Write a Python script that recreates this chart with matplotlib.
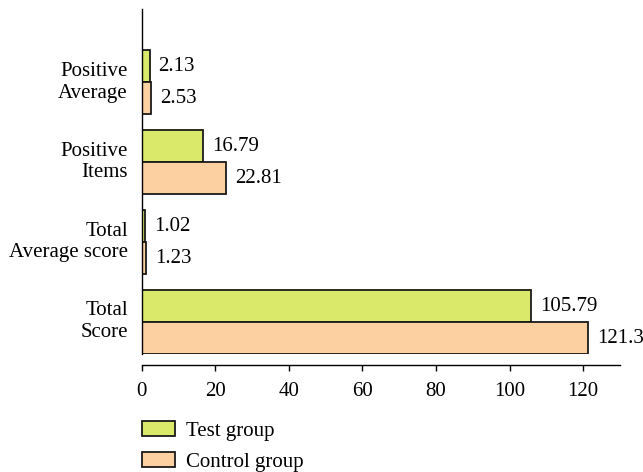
import matplotlib
matplotlib.use('Agg')
import matplotlib.pyplot as plt
import matplotlib.transforms as mtransforms
from matplotlib.patches import Patch
import numpy as np

# Data (bottom to top)
categories = ['Total\nScore', 'Total\nAverage score', 'Positive\nItems', 'Positive\nAverage']
test_group = [105.79, 1.02, 16.79, 2.13]
control_group = [121.3, 1.23, 22.81, 2.53]
test_labels = ['105.79', '1.02', '16.79', '2.13']
control_labels = ['121.3', '1.23', '22.81', '2.53']
x_ticks = [0, 20, 40, 60, 80, 100, 120]

green = '#dbe96b'
orange = '#fdd0a2'
edge = '#1a1a1a'

plt.rcParams['font.family'] = ['Liberation Serif', 'DejaVu Serif']
plt.rcParams['font.size'] = 15

fig = plt.figure(figsize=(6.43, 4.72), dpi=100)
ax = fig.add_axes([0.2204, 0.25, 0.9642 - 0.2204, 0.731])

y = np.arange(len(categories))
h = 0.4
ax.barh(y + h / 2, test_group, height=h, color=green, edgecolor=edge, linewidth=1.3)
ax.barh(y - h / 2, control_group, height=h, color=orange, edgecolor=edge, linewidth=1.3)

for yi, v, s in zip(y, test_group, test_labels):
    ax.annotate(s, (v, yi + h / 2), xytext=(6.5, 0), textcoords='offset points',
                va='center', ha='left', fontsize=15)
for yi, v, s in zip(y, control_group, control_labels):
    ax.annotate(s, (v, yi - h / 2), xytext=(6.5, 0), textcoords='offset points',
                va='center', ha='left', fontsize=15)

ax.set_xlim(0, 130)
ax.set_ylim(-0.4, 3.92)
ax.set_xticks(x_ticks)
ax.set_yticks(y)
ax.set_yticklabels(categories, multialignment='right', linespacing=1.2)
ax.tick_params(axis='y', length=0, pad=10)
ax.tick_params(axis='x', length=4, width=1, pad=8, direction='out')

# nudge category labels up a little
shift = mtransforms.ScaledTranslation(0, 3 / 72, fig.dpi_scale_trans)
for lbl in ax.get_yticklabels():
    lbl.set_transform(lbl.get_transform() + shift)

for side in ['top', 'right']:
    ax.spines[side].set_visible(False)
ax.spines['bottom'].set_position(('outward', 8))
ax.spines['left'].set_linewidth(1)
ax.spines['bottom'].set_linewidth(1)

handles = [Patch(facecolor=green, edgecolor=edge, linewidth=1.3, label='Test group'),
           Patch(facecolor=orange, edgecolor=edge, linewidth=1.3, label='Control group')]
fig.legend(handles=handles, loc='upper left', bbox_to_anchor=(0.2204, 0.109),
           frameon=False, borderpad=0, borderaxespad=0, handlelength=1.59,
           handleheight=0.77, handletextpad=0.55, labelspacing=0.54, fontsize=15)

fig.savefig('out.png', dpi=100)
